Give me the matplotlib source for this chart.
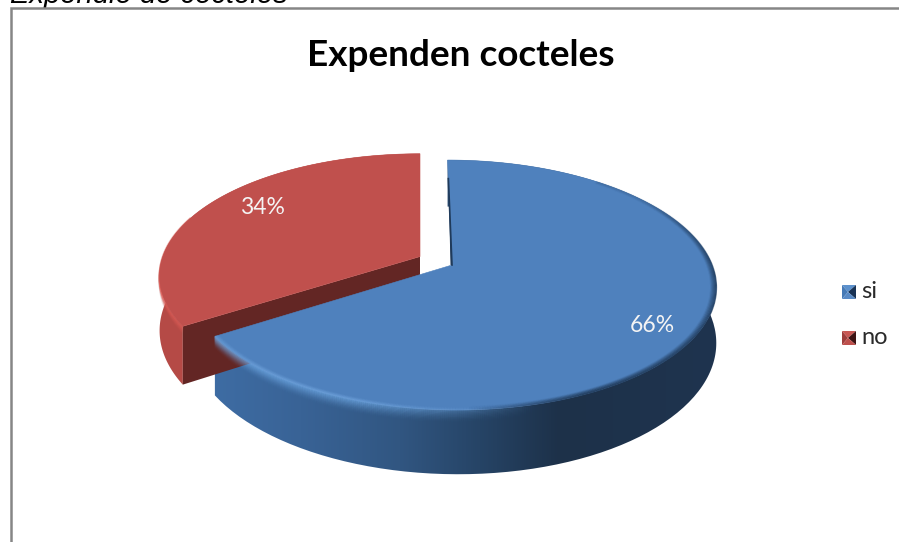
import numpy as np
import matplotlib
matplotlib.use('Agg')
import matplotlib.pyplot as plt
from matplotlib.patches import Polygon, PathPatch
from matplotlib.path import Path
from matplotlib.collections import LineCollection
from matplotlib.colors import LinearSegmentedColormap

##Data
labels = ['si', 'no']
shares = [66, 34]
title = 'Expenden cocteles'
caption = 'Expendio de cocteles'

##Colours
blue_top = '#4F81BD'
red_top = '#C0504D'
red_cut = '#632624'

##Perspective set up, pie plane -> pixels
VX = 420.0      #vanishing point x
VY = -496.0     #horizon
H_TOP = 761.0   #top face
H_BOT = 815.0   #bottom face
K = 0.16
A = 260.0


def proj(X, Y, H=H_TOP):
    w = 1 + K * Y
    return VX + A * X / w, VY + H / w


def arc(ang0, ang1, r=1.0, off=(0, 0), H=H_TOP, n=200):
    #angles clockwise from 12 o'clock, in degrees
    t = np.radians(np.linspace(ang0, ang1, n))
    return proj(off[0] + r * np.sin(t), off[1] + r * np.cos(t), H)


def gradient_wall(ax, xy, stops):
    patch = PathPatch(Path(xy, closed=False), fc='none', ec='none')
    ax.add_patch(patch)
    x0, x1 = stops[0][0], stops[-1][0]
    cmap = LinearSegmentedColormap.from_list('wall', [((x - x0) / (x1 - x0), np.array(c) / 255) for x, c in stops])
    im = ax.imshow(np.linspace(0, 1, 512).reshape(1, -1), cmap=cmap, aspect='auto',
                   extent=(x0, x1, 542, 0), zorder=1, interpolation='bilinear')
    im.set_clip_path(patch)


def rim(ax, ang0, ang1, r, off, H, colour, alpha_fn, lw=1.2, zorder=4):
    x, y = arc(ang0, ang1, r, off, H, n=300)
    pts = np.column_stack([x, y])
    segs = np.stack([pts[:-1], pts[1:]], axis=1)
    cols = np.zeros((len(segs), 4))
    cols[:, :3] = np.array(colour) / 255
    cols[:, 3] = alpha_fn(x[:-1], y[:-1])
    ax.add_collection(LineCollection(segs, colors=cols, linewidths=lw, zorder=zorder, capstyle='butt'))


fig = plt.figure(figsize=(8.99, 5.42), dpi=100)
ax = fig.add_axes([0, 0, 1, 1])

#Slice angles
a_split = 360 * shares[0] / sum(shares)
off_blue = (32 / A, 0.0)
off_red = (0.0, 0.07)
r_red = 1.0

##Red slice, drawn first as it sits behind
tx, ty = arc(a_split, 360, r_red, off_red)
bx, by = arc(a_split, 360, r_red, off_red, H_BOT)
wall = np.column_stack([np.r_[tx, bx[::-1]], np.r_[ty, by[::-1]]])
ax.add_patch(Polygon(wall, closed=True, fc='#B54A46', ec='none', zorder=2))

cx, cy = proj(off_red[0], off_red[1])
cbx, cby = proj(off_red[0], off_red[1], H_BOT)
cut = [(cx, cy), (tx[0], ty[0]), (bx[0], by[0]), (cbx, cby)]
ax.add_patch(Polygon(cut, closed=True, fc=red_cut, ec='none', zorder=3))

for d in np.linspace(0, 8, 9):
    rim(ax, a_split, 290, r_red, off_red, H_TOP + d, (222, 96, 90),
        lambda x, y, d=d: (1 - d / 9) ** 1.5 * 0.5 * np.clip((235 - x) / 30 + 0.3, 0, 1), lw=1.5, zorder=3)

ax.add_patch(Polygon(np.column_stack([np.r_[cx, tx], np.r_[cy, ty]]), closed=True,
                     fc=red_top, ec=red_top, lw=0.4, zorder=5))

##Blue slice
tx, ty = arc(0, a_split, 1.0, off_blue)
bx, by = arc(0, a_split, 1.0, off_blue, H_BOT)
wall = np.column_stack([np.r_[tx, bx[::-1], tx[0]], np.r_[ty, by[::-1], ty[0]]])
wall_stops = [(150, (62, 108, 163)), (216, (62, 108, 163)), (300, (57, 99, 150)), (400, (49, 86, 129)),
              (480, (38, 68, 102)), (560, (29, 49, 73)), (720, (31, 52, 79))]
gradient_wall(ax, wall, wall_stops)

#Light rim at the front left of the wall
for d in np.linspace(0, 11, 12):
    rim(ax, 120, a_split, 1.0, off_blue, H_TOP + d, (110, 168, 228),
        lambda x, y, d=d: (1 - d / 12) ** 2 * 0.55 * np.clip((540 - x) / 180, 0, 1), lw=1.6, zorder=6)

cx, cy = proj(off_blue[0], off_blue[1])
ax.add_patch(Polygon(np.column_stack([np.r_[cx, tx], np.r_[cy, ty]]), closed=True,
                     fc=blue_top, ec=blue_top, lw=0.4, zorder=7))

#Highlight inside the top face, same front left stretch
for r in np.linspace(1.0, 0.985, 5):
    rim(ax, 150, a_split, r, off_blue, H_TOP, (125, 178, 235),
        lambda x, y, r=r: (1 - (1 - r) / 0.018) * 0.35 * np.clip((520 - x) / 180, 0, 1), lw=1.0, zorder=8)

#Soft dark edge on the right of the top face
for r in np.linspace(1.0, 0.98, 6):
    rim(ax, 40, 190, r, off_blue, H_TOP, (30, 55, 85),
        lambda x, y, r=r: (1 - (1 - r) / 0.023) * 0.7 * np.clip((x - 470) / 120, 0, 1) * np.clip((y - 190) / 80, 0.1, 1),
        lw=1.2, zorder=8)

#Thin sliver of the cut face at the start of the blue slice
ex, ey = arc(0, 0, 0.8, off_blue, n=2)
ax.add_patch(Polygon([(cx, cy), (ex[0], ey[0]), (cx - 1.5, cy)], closed=True, fc='#1F3A5A', ec='none', zorder=8))
ax.plot([cx, ex[0]], [cy, ey[0]], color='#1F3A5A', lw=1.2, zorder=8)

##Labels on the slices
ax.text(262, 208, '%d%%' % shares[1], color='#F4F4F4', fontsize=16.5, family='Lato', ha='center', va='center', zorder=10)
ax.text(652, 325, '%d%%' % shares[0], color='#F4F4F4', fontsize=16.5, family='Lato', ha='center', va='center', zorder=10)

##Title and the caption above the frame
ax.text(461, 56, title, fontsize=26.6, family='Lato', weight='bold', color='black', ha='center', va='center')
ax.text(10, 3, caption, fontsize=21, family='Liberation Sans', style='italic', color='black', ha='left', va='baseline')

##Frame, no right or bottom side
ax.plot([10.5, 10.5, 899], [542, 8, 8], color='#868686', lw=1.8, solid_joinstyle='miter', zorder=9)

##Legend
leg_y = [292, 338]
leg_cols = [((92, 145, 205), (70, 122, 182), (24, 50, 84), (88, 138, 198)),
            ((200, 88, 84), (158, 62, 60), (62, 20, 20), (190, 80, 76))]
for name, y, c in zip(labels, leg_y, leg_cols):
    x0, x1, y0, y1 = 842, 856, y - 7, y + 7
    mid = (x0 + 6, y)
    tris = [[(x0, y0), (x1, y0), mid], [(x0, y0), (x0, y1), mid], [(x1, y0), (x1, y1), mid], [(x0, y1), (x1, y1), mid]]
    for tri, col in zip(tris, c):
        ax.add_patch(Polygon(tri, closed=True, fc=np.array(col) / 255, ec='none', zorder=5))
    ax.text(861, y - 1, name, fontsize=17, family='Lato', color='#2A2A2A', ha='left', va='center')

ax.set_xlim(0, 899)
ax.set_ylim(542, 0)
ax.axis('off')
fig.savefig('out.png', dpi=100)
